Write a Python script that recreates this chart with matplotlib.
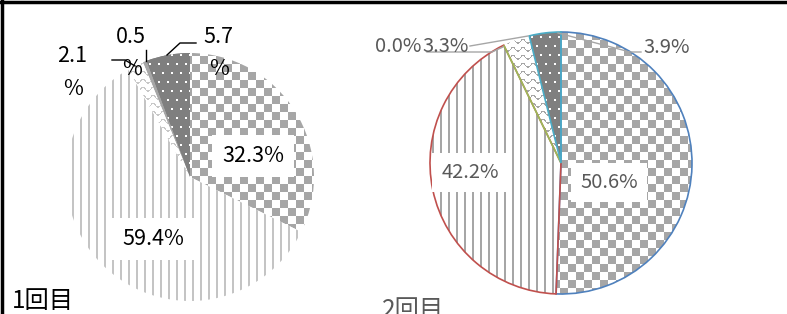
import numpy as np
import matplotlib
matplotlib.use('Agg')
import matplotlib.pyplot as plt

plt.rcParams['font.family'] = ['Noto Sans CJK JP', 'DejaVu Sans']

# data
round1_vals = [32.3, 59.4, 2.1, 0.5, 5.7]
round1_labels = ['32.3%', '59.4%', '2.1\n%', '0.5\n%', '5.7\n%']
round2_vals = [50.6, 42.2, 0.0, 3.3, 3.9]
round2_labels = ['50.6%', '42.2%', '0.0%', '3.3%', '3.9%']
titles = ['1回目', '2回目']

W, H = 787, 314
fig = plt.figure(figsize=(W / 100, H / 100), dpi=100)
ax = fig.add_axes([0, 0, 1, 1])

yy, xx = np.mgrid[0:H, 0:W]


def pattern(mask, fg, bg):
    fg = np.array(matplotlib.colors.to_rgba(fg))
    bg = np.array(matplotlib.colors.to_rgba(bg))
    img = np.where(mask[..., None], fg, bg)
    return img


checker = ((xx // 8 + yy // 8) % 2 == 0)
vlines = (xx % 8) < 2
waves = ((yy + 2.0 * np.sin(2 * np.pi * xx / 10.0)) % 8) < 1.2
shift = ((yy // 9) % 2) * 4
dots = ((yy % 9) < 2) & (((xx + shift) % 9) < 2)

left_pats = [pattern(checker, '#A6A6A6', 'white'),
             pattern(vlines, '#C4C4C4', 'white'),
             pattern(waves, '#C8C8C8', 'white'),
             None,
             pattern(dots, 'white', '#7F7F7F')]
right_pats = [pattern(checker, '#A6A6A6', 'white'),
              pattern(vlines, '#A6A6A6', 'white'),
              None,
              pattern(waves, '#A6A6A6', 'white'),
              pattern(dots, 'white', '#7F7F7F')]


def py(y):
    return H - y


def draw_pie(vals, pats, cx, cy, r, solid):
    wedges, _ = ax.pie(vals, startangle=90, counterclock=False,
                       center=(cx, py(cy)), radius=r,
                       colors=solid, wedgeprops=dict(linewidth=0))
    for w, p in zip(wedges, pats):
        if p is None:
            continue
        im = ax.imshow(p, extent=(0, W, 0, H), origin='upper',
                       interpolation='nearest', zorder=2)
        im.set_clip_path(w)
    return wedges


# 1回目
draw_pie(round1_vals, left_pats, 190, 177, 124,
         ['white', 'white', 'white', '#A6A6A6', '#7F7F7F'])

# 2回目
draw_pie(round2_vals, right_pats, 561, 163, 131,
         ['white'] * 5)
edges2 = ['#4F81BD', '#C0504D', '#9BBB59', 'none', '#4BACC6']
ax.pie(round2_vals, startangle=90, counterclock=False,
       center=(561, py(163)), radius=131, colors=['none'] * 5,
       wedgeprops=dict(linewidth=1.2, fill=False),
       )
for w, c in zip(ax.patches[-5:], edges2):
    w.set_edgecolor(c)
    w.set_zorder(3)

box = dict(boxstyle='square,pad=0.45', fc='white', ec='none')
fs = 15.5

# labels round 1 (black)
ax.text(253, py(162), round1_labels[0], fontsize=fs, ha='center', va='baseline', bbox=box, zorder=5)
ax.text(153, py(245), round1_labels[1], fontsize=fs, ha='center', va='baseline', bbox=box, zorder=5)
for lab, x, y1, y2 in [(round1_labels[2], 72, 62, 95),
                       (round1_labels[3], 131, 43, 75),
                       (round1_labels[4], 218, 43, 75)]:
    a, b = lab.split('\n')
    ax.text(x, py(y1), a, fontsize=fs, ha='center', va='baseline', zorder=5)
    ax.text(x + 1, py(y2), b, fontsize=fs, ha='center', va='baseline', zorder=5)

ax.plot([112, 125, 135], [py(60), py(60), py(66)], color='black', lw=1, zorder=4)
ax.plot([145.5, 145.5], [py(50), py(61)], color='black', lw=1, zorder=4)
ax.plot([196, 180, 167], [py(43), py(43), py(55)], color='black', lw=1, zorder=4)

# labels round 2 (gray)
g = '#595959'
ax.text(609, py(188), round2_labels[0], fontsize=14.5, color=g, ha='center', va='baseline', bbox=box, zorder=5)
ax.text(470, py(178), round2_labels[1], fontsize=14.5, color=g, ha='center', va='baseline', bbox=box, zorder=5)
ax.plot([427, 492, 503], [py(52), py(52), py(47)], color='#A6A6A6', lw=1, zorder=4)
ax.plot([470, 528], [py(46), py(36)], color='#A6A6A6', lw=1, zorder=4)
ax.plot([558, 630, 641], [py(33), py(52), py(52)], color='#A6A6A6', lw=1, zorder=4)
ax.text(398, py(52), round2_labels[2], fontsize=14.5, color=g, ha='center', va='baseline', zorder=5)
ax.text(446, py(52), round2_labels[3], fontsize=14.5, color=g, ha='center', va='baseline', zorder=5)
ax.text(667, py(53), round2_labels[4], fontsize=14.5, color=g, ha='center', va='baseline', zorder=5)

# titles
ax.text(12, py(308), titles[0], fontsize=17.5, color='black', ha='left', va='baseline', zorder=5)
ax.text(382, py(317), titles[1], fontsize=17.5, color=g, ha='left', va='baseline', zorder=5)

# frame lines
ax.plot([0, W], [py(1.5), py(1.5)], color='black', lw=2.5, zorder=6)
ax.plot([1.5, 1.5], [0, H], color='black', lw=2.5, zorder=6)

ax.set_xlim(0, W)
ax.set_ylim(0, H)
ax.set_aspect('auto')
ax.axis('off')

fig.savefig('out.png', dpi=100)
